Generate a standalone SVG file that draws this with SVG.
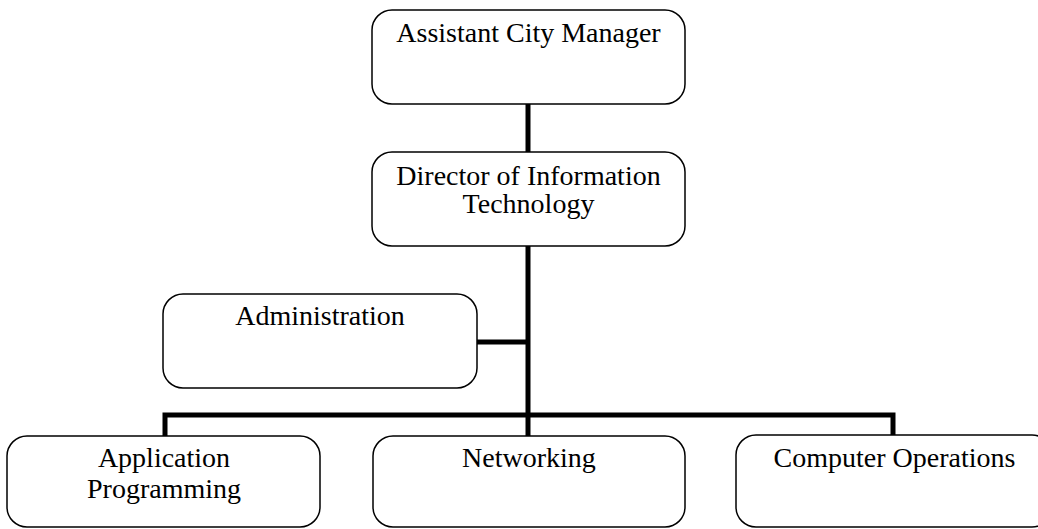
<svg xmlns="http://www.w3.org/2000/svg" width="1038" height="529" viewBox="0 0 1038 529">
<style>
.box{fill:#fff;stroke:#000;stroke-width:1.5}
.lbl{font-family:"Liberation Serif","Times New Roman",serif;font-size:28px;fill:#000;text-anchor:middle}
.conn{stroke:#000;stroke-width:5;fill:none;stroke-linecap:butt}
</style>
<rect width="1038" height="529" fill="#fff"/>
<g id="connectors">
<line class="conn" x1="528" y1="104" x2="528" y2="152"/>
<line class="conn" x1="528" y1="246" x2="528" y2="417"/>
<line class="conn" x1="477" y1="342" x2="528" y2="342"/>
<polyline class="conn" points="165,436 165,415 893,415 893,436"/>
<line class="conn" x1="528" y1="415" x2="528" y2="436"/>
</g>
<g id="n-acm">
<rect class="box" x="372" y="10" width="313" height="94" rx="20"/>
<text class="lbl" x="528.5" y="42">Assistant City Manager</text>
</g>
<g id="n-dir">
<rect class="box" x="372" y="152" width="313" height="94" rx="20"/>
<text class="lbl" x="528.5" y="185">Director of Information</text>
<text class="lbl" x="528.5" y="213">Technology</text>
</g>
<g id="n-admin">
<rect class="box" x="163" y="294" width="314" height="94" rx="20"/>
<text class="lbl" x="320" y="325">Administration</text>
</g>
<g id="n-app">
<rect class="box" x="7" y="436" width="313" height="91" rx="20"/>
<text class="lbl" x="164" y="467">Application</text>
<text class="lbl" x="164" y="498">Programming</text>
</g>
<g id="n-net">
<rect class="box" x="373" y="436" width="312" height="91" rx="20"/>
<text class="lbl" x="529" y="467">Networking</text>
</g>
<g id="n-ops">
<rect class="box" x="736" y="435" width="316" height="92" rx="20"/>
<text class="lbl" x="894.5" y="467">Computer Operations</text>
</g>
</svg>
